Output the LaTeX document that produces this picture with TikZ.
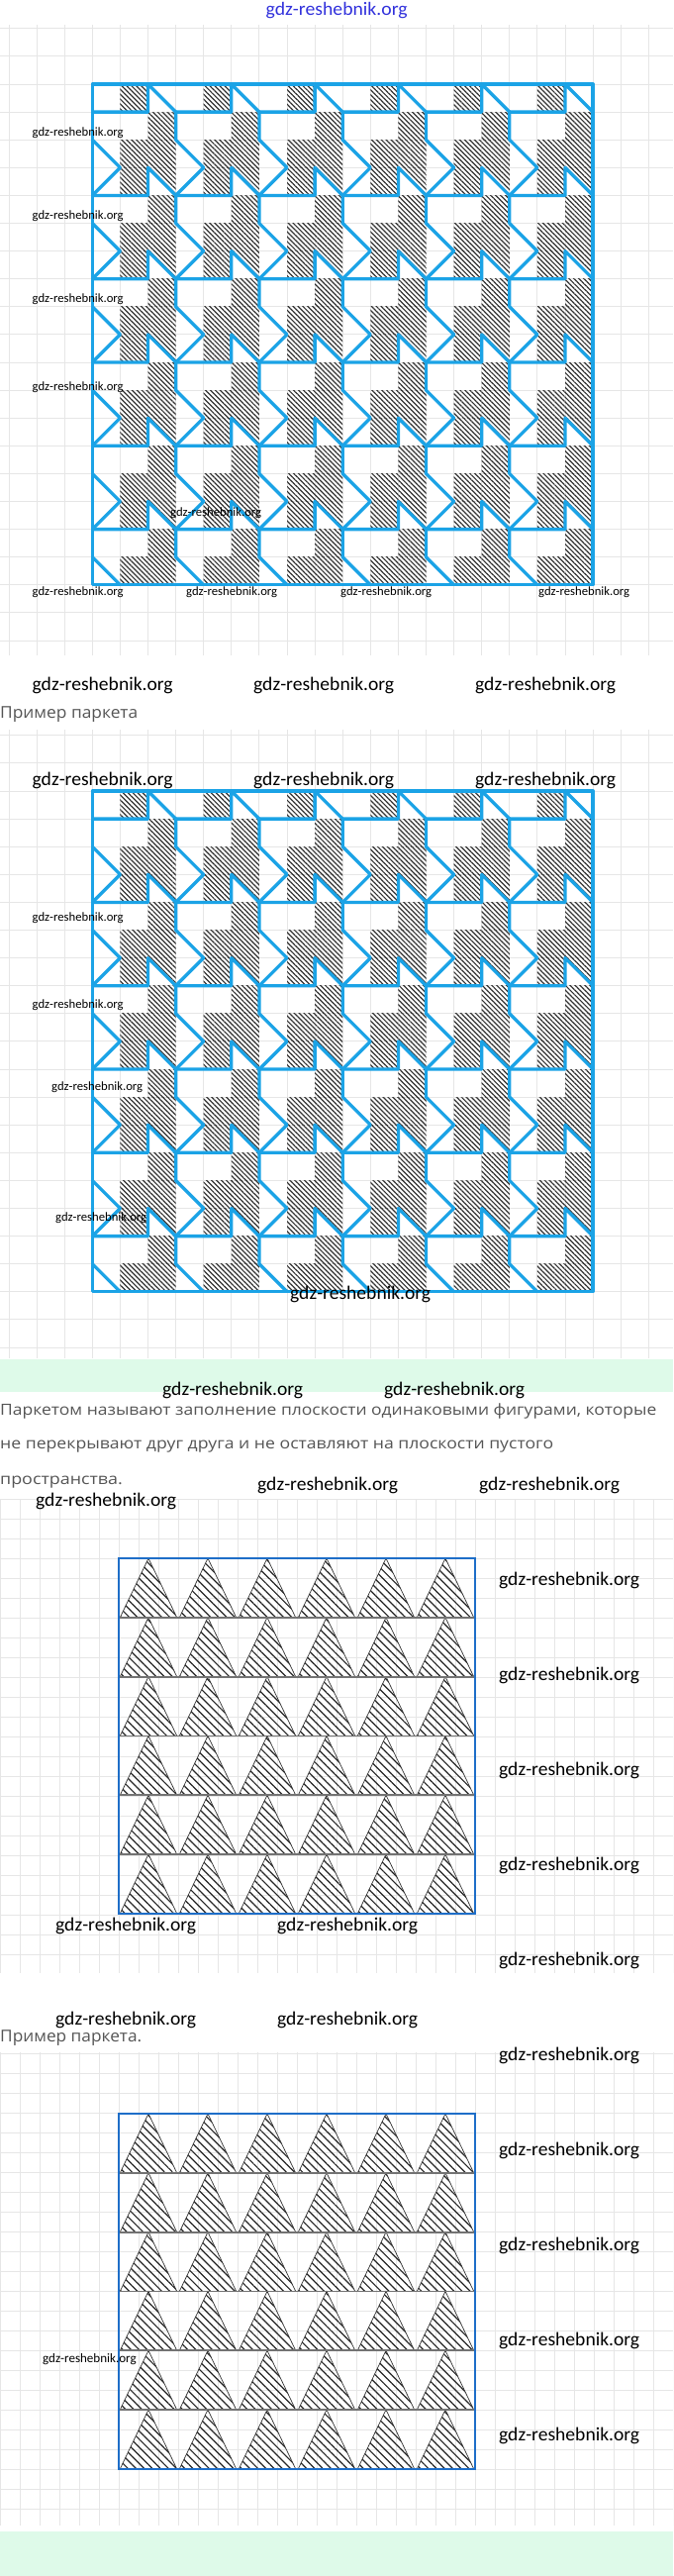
\documentclass[tikz,border=0pt]{standalone}
\usepackage{fontspec}
\usepackage{graphicx}
\setmainfont{Carlito}
\newfontfamily\rufont{Open Sans}
\usetikzlibrary{patterns.meta}
\definecolor{tileblue}{RGB}{27,163,230}
\definecolor{gridgray}{RGB}{230,230,230}
\definecolor{mint}{RGB}{222,250,233}
\definecolor{rectblue}{RGB}{30,110,200}
\definecolor{rugray}{RGB}{85,85,85}
\definecolor{wmblue}{RGB}{50,50,220}
\newcommand{\gdz}[2]{\resizebox{#1pt}{\height}{\fontsize{#2}{#2}\selectfont gdz-reshebnik.org}}
\newcommand{\rutext}[3]{\resizebox{#1pt}{\height}{\rufont\fontsize{#2}{#2}\selectfont #3}}
\newcommand{\parquet}{%
  \foreach \i in {0,...,17}{\foreach \j in {0,...,17}{%
    \pgfmathtruncatemacro{\ha}{mod(\i,3)}%
    \pgfmathtruncatemacro{\hb}{mod(\j,3)}%
    \pgfmathtruncatemacro{\hh}{((\ha==1)&&(\hb!=1))||((\ha==2)&&(\hb!=0))}%
    \ifnum\hh=1 \fill[hatchA] (\i,\j) rectangle ++(1,1);\fi
  }}
  \foreach \i in {2,5,...,17}{\foreach \j in {3,6,...,15}{%
    \fill[hatchA] (\i,\j) -- ++(1,0) -- ++(0,1) -- cycle;
  }}
  \begin{scope}
    \clip (0,0) rectangle (18,18);
    \foreach \m in {-1,...,5}{\foreach \n in {0,...,5}{%
      \pgfmathsetmacro{\px}{3*\m}\pgfmathsetmacro{\py}{1+3*\n}%
      \draw[tileline] (\px,\py) -- ++(2,0) -- ++(0,-1) -- ++(1,1) -- ++(0,1) -- ++(1,1) -- ++(-1,1);
    }}
  \end{scope}
  \draw[tileline] (0,0) rectangle (18,18);
}
\newcommand{\triangles}{%
  \foreach \r in {0,...,5}{\foreach \k in {0,...,5}{%
    \draw[triline,hatchB] ({1.3+60*\k},{59.8*\r+59.8}) -- ({30+60*\k},{59.8*\r}) -- ({58.7+60*\k},{59.8*\r+59.8}) -- cycle;
  }}
  \foreach \r in {1,...,5} \draw[rowline] (0,59.8*\r) -- (360,59.8*\r);
  \draw[rectline] (0,0) rectangle (360,359);
}
\begin{document}
\begin{tikzpicture}[x=1pt,y=-1pt,
  wm/.style={anchor=west,inner sep=0pt,text=black},
  ru/.style={anchor=west,inner sep=0pt,text=rugray},
  gridline/.style={draw=gridgray,line width=1pt},
  tileline/.style={draw=tileblue,line width=3.3pt,line cap=round,line join=round},
  hatchA/.style={pattern={Lines[angle=-45,distance=3.5pt,line width=1.2pt]},pattern color=black!80},
  hatchB/.style={pattern={Lines[angle=-45,distance=5.8pt,line width=1.2pt]},pattern color=black!85},
  triline/.style={draw=black!80,line width=0.7pt},
  rowline/.style={draw=black!55,line width=1.8pt},
  rectline/.style={draw=rectblue,line width=2.5pt}]
\useasboundingbox (0,0) rectangle (680,2602);
\fill[white] (0,0) rectangle (680,2602);
\fill[mint] (0,1373) rectangle (680,1406);
\fill[mint] (0,2557) rectangle (680,2602);
% grids
\begin{scope}\clip (0,25) rectangle (680,662);
  \foreach \k in {0,...,24} \draw[gridline] (9.0+28.1*\k,25) -- (9.0+28.1*\k,662);
  \foreach \k in {0,...,22} \draw[gridline] (0,28.8+28.1*\k) -- (680,28.8+28.1*\k);
\end{scope}
\begin{scope}\clip (0,737) rectangle (680,1372);
  \foreach \k in {0,...,24} \draw[gridline] (9.0+28.1*\k,737) -- (9.0+28.1*\k,1372);
  \foreach \k in {0,...,22} \draw[gridline] (0,742.8+28.1*\k) -- (680,742.8+28.1*\k);
\end{scope}
\begin{scope}\clip (0,1514) rectangle (680,1993);
  \foreach \k in {0,...,34} \draw[gridline] (20*\k,1514) -- (20*\k,1993);
  \foreach \k in {0,...,24} \draw[gridline] (0,1514+20*\k) -- (680,1514+20*\k);
\end{scope}
\begin{scope}\clip (0,2073) rectangle (680,2551);
  \foreach \k in {0,...,34} \draw[gridline] (20*\k,2073) -- (20*\k,2551);
  \foreach \k in {0,...,24} \draw[gridline] (0,2074+20*\k) -- (680,2074+20*\k);
\end{scope}
% parquets
\begin{scope}[shift={(93.3,85)},x=28.1pt,y=-28.1pt] \parquet \end{scope}
\begin{scope}[shift={(93.3,799)},x=28.1pt,y=-28.1pt] \parquet \end{scope}
% triangle parquets
\begin{scope}[shift={(120,1574)}] \triangles \end{scope}
\begin{scope}[shift={(120,2135)}] \triangles \end{scope}
% texts
\node[wm] (t0) at (268.5,11) {\textcolor{wmblue}{\gdz{143}{19}}};
\node[wm] (a1) at (32.5,134) {\gdz{92}{12.6}};
\node[wm] (a2) at (32.5,218) {\gdz{92}{12.6}};
\node[wm] (a3) at (32.5,302) {\gdz{92}{12.6}};
\node[wm] (a4) at (32.5,391) {\gdz{92}{12.6}};
\node[wm] (a5) at (172,518) {\gdz{92}{12.6}};
\node[wm] (a6) at (32.5,598) {\gdz{92}{12.6}};
\node[wm] (a7) at (188,598) {\gdz{92}{12.6}};
\node[wm] (a8) at (344,598) {\gdz{92}{12.6}};
\node[wm] (a9) at (544,598) {\gdz{92}{12.6}};
\node[wm] (b1) at (32.5,692) {\gdz{142}{19.3}};
\node[wm] (b2) at (256,692) {\gdz{142}{19.3}};
\node[wm] (b3) at (480,692) {\gdz{142}{19.3}};
\node[ru] (r1) at (0,721.4) {\rutext{139}{16.5}{Пример паркета}};
\node[wm] (b4) at (32.5,788.4) {\gdz{142}{19.3}};
\node[wm] (b5) at (256,788.4) {\gdz{142}{19.3}};
\node[wm] (b6) at (480,788.4) {\gdz{142}{19.3}};
\node[wm] (a10) at (32.5,926.8) {\gdz{92}{12.6}};
\node[wm] (a11) at (32.5,1015) {\gdz{92}{12.6}};
\node[wm] (a12) at (52,1097.8) {\gdz{92}{12.6}};
\node[wm] (a13) at (56,1230) {\gdz{92}{12.6}};
\node[wm] (b7) at (293,1307) {\gdz{142}{19.3}};
\node[wm] (b8) at (164,1404) {\gdz{142}{19.3}};
\node[wm] (b9) at (388,1404) {\gdz{142}{19.3}};
\node[ru] (r2) at (0,1425.5) {\rutext{663}{15.5}{Паркетом называют заполнение плоскости одинаковыми фигурами, которые}};
\node[ru] (r3) at (0,1461) {\rutext{559}{15.5}{не перекрывают друг друга и не оставляют на плоскости пустого}};
\node[ru] (r4) at (0,1497) {\rutext{123.6}{15.5}{пространства.}};
\node[wm] (b10) at (260,1500) {\gdz{142}{19.3}};
\node[wm] (b11) at (484,1500) {\gdz{142}{19.3}};
\node[wm] (b12) at (36,1516) {\gdz{142}{19.3}};
\node[wm] (c1) at (504,1596.7) {\gdz{142}{19.3}};
\node[wm] (c2) at (504,1692.6) {\gdz{142}{19.3}};
\node[wm] (c3) at (504,1788.5) {\gdz{142}{19.3}};
\node[wm] (c4) at (504,1884.6) {\gdz{142}{19.3}};
\node[wm] (c5) at (504,1980.6) {\gdz{142}{19.3}};
\node[wm] (c6) at (504,2076.4) {\gdz{142}{19.3}};
\node[wm] (c7) at (504,2172.4) {\gdz{142}{19.3}};
\node[wm] (c8) at (504,2268.4) {\gdz{142}{19.3}};
\node[wm] (c9) at (504,2364.3) {\gdz{142}{19.3}};
\node[wm] (c10) at (504,2460.2) {\gdz{142}{19.3}};
\node[wm] (b13) at (56,1945) {\gdz{142}{19.3}};
\node[wm] (b14) at (280,1945) {\gdz{142}{19.3}};
\node[wm] (b15) at (56,2040) {\gdz{142}{19.3}};
\node[wm] (b16) at (280,2040) {\gdz{142}{19.3}};
\node[ru] (r5) at (0,2059) {\rutext{143}{16.5}{Пример паркета.}};
\node[wm] (a14) at (43,2382.6) {\gdz{94.5}{13}};
\end{tikzpicture}
\end{document}
